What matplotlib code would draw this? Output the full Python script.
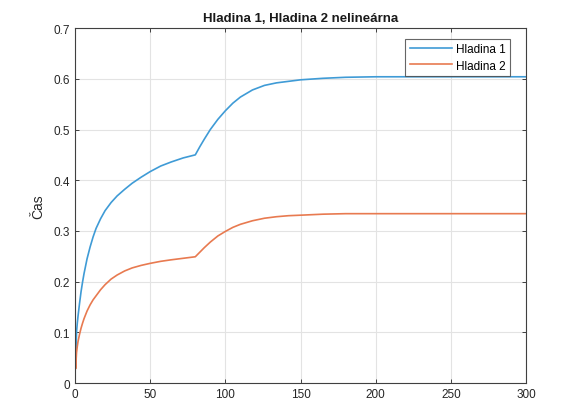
import matplotlib
matplotlib.use("Agg")
import matplotlib.pyplot as plt

t1 = [0, 0.4, 1, 1.5, 2, 3, 4, 5, 6, 8, 10, 12, 14, 17, 20, 24, 28, 33, 38, 44, 50, 57, 64, 72, 80,
      83, 86, 90, 95, 100, 105, 110, 118, 126, 134, 142, 150, 165, 180, 200, 230, 260, 300]
h1 = [0.09, 0.034, 0.1, 0.118, 0.132, 0.157, 0.18, 0.199, 0.216, 0.245, 0.268, 0.288, 0.305, 0.324, 0.34, 0.356,
      0.369, 0.382, 0.394, 0.406, 0.417, 0.428, 0.436, 0.444, 0.45,
      0.466, 0.481, 0.5, 0.52, 0.537, 0.552, 0.564, 0.578, 0.587, 0.592, 0.595, 0.598, 0.601, 0.603,
      0.604, 0.604, 0.604, 0.604]
h2 = [0.09, 0.028, 0.06, 0.072, 0.082, 0.096, 0.108, 0.118, 0.127, 0.142, 0.154, 0.164, 0.172, 0.184, 0.194,
      0.205, 0.213, 0.221, 0.227, 0.232, 0.236, 0.24, 0.243, 0.246, 0.249,
      0.258, 0.267, 0.278, 0.29, 0.299, 0.307, 0.313, 0.32, 0.325, 0.328, 0.33, 0.331, 0.333, 0.334,
      0.334, 0.334, 0.334, 0.334]

xticks = [0, 50, 100, 150, 200, 250, 300]
yticks = [0, 0.1, 0.2, 0.3, 0.4, 0.5, 0.6, 0.7]
title = "Hladina 1, Hladina 2 nelineárna"
ylabel = "Čas"
labels = ["Hladina 1", "Hladina 2"]

plt.rcParams['font.family'] = ['Liberation Sans', 'DejaVu Sans']
fig = plt.figure(figsize=(5.62, 4.10), dpi=100)
ax = fig.add_axes([0.1335, 0.0634, 0.8025, 0.8656])
ax.plot(t1, h1, color='#3f9bd6', lw=1.2, label=labels[0])
ax.plot(t1, h2, color='#e87a50', lw=1.2, label=labels[1])
ax.set_xlim(0, 300)
ax.set_ylim(0, 0.7)
ax.set_xticks(xticks)
ax.set_yticks(yticks)
ax.set_xticklabels([str(v) for v in xticks])
ax.set_yticklabels([f"{v:g}" for v in yticks])
ax.grid(True, color='#e3e3e3', lw=0.8)
ax.set_axisbelow(True)
for s in ax.spines.values():
    s.set_color('#404040')
    s.set_linewidth(0.8)
ax.tick_params(direction='in', length=3, width=0.6, colors='#262626', labelsize=8.5,
               top=True, right=True)
ax.set_title(title, fontsize=9.5, fontweight='bold', color='#1a1a1a', pad=5)
ax.set_ylabel(ylabel, fontsize=10, color='#262626', labelpad=6)
leg = ax.legend(loc='upper right', bbox_to_anchor=(0.965, 0.97), fontsize=8.5, frameon=True,
                fancybox=False, edgecolor='#404040', handlelength=3.6, borderpad=0.4,
                labelspacing=0.35, handletextpad=0.3, borderaxespad=0)
leg.get_frame().set_linewidth(0.8)
fig.savefig("out.png", dpi=100)
